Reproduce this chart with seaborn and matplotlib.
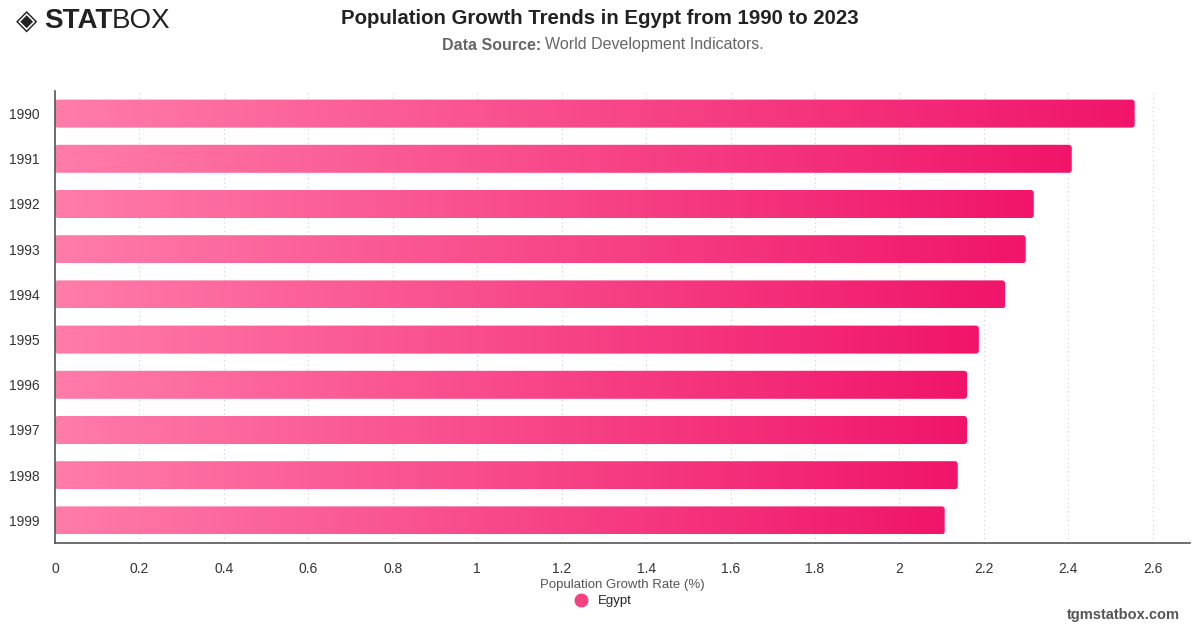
import numpy as np
import pandas as pd
import matplotlib
matplotlib.use("Agg")
import matplotlib.pyplot as plt
import seaborn as sns
from matplotlib.colors import LinearSegmentedColormap
from matplotlib.patches import FancyBboxPatch
from matplotlib.lines import Line2D

# datos
years = ["1990", "1991", "1992", "1993", "1994", "1995", "1996", "1997", "1998", "1999"]
growth = [2.557, 2.408, 2.318, 2.299, 2.250, 2.188, 2.160, 2.160, 2.138, 2.107]
x_ticks = [0, 0.2, 0.4, 0.6, 0.8, 1, 1.2, 1.4, 1.6, 1.8, 2, 2.2, 2.4, 2.6]
x_tick_labels = ["0", "0.2", "0.4", "0.6", "0.8", "1", "1.2", "1.4", "1.6", "1.8", "2", "2.2", "2.4", "2.6"]

df = pd.DataFrame({"year": years, "growth": growth})

sns.set_theme(style="white")
plt.rcParams["font.family"] = ["Liberation Sans", "DejaVu Sans"]

fig = plt.figure(figsize=(12, 6.28), dpi=100)
ax = fig.add_axes([55 / 1200, 1 - 543 / 628, (1190 - 55) / 1200, (543 - 91) / 628])

sns.barplot(data=df, x="growth", y="year", orient="h", width=0.62,
            color="#f7407f", ax=ax)

# degradado rosa en cada barra
cmap = LinearSegmentedColormap.from_list("pinks", ["#ff7ca9", "#f0156a"])
grad = np.linspace(0, 1, 256).reshape(1, -1)
for p in list(ax.patches):
    x0, y0, w, h = p.get_x(), p.get_y(), p.get_width(), p.get_height()
    p.set_visible(False)
    clip = FancyBboxPatch((x0, y0), w, h, boxstyle="round,pad=0,rounding_size=0.007",
                          mutation_aspect=9.3, transform=ax.transData,
                          facecolor="none", edgecolor="none")
    ax.add_patch(clip)
    im = ax.imshow(grad, cmap=cmap, extent=(x0, x0 + w, y0 + h, y0),
                   aspect="auto", zorder=2)
    im.set_clip_path(clip)

ax.set_xlim(0, 2.688)
ax.set_ylim(9.5, -0.5)
ax.set_xticks(x_ticks)
ax.set_xticklabels(x_tick_labels)
ax.tick_params(axis="x", length=0, pad=14, labelsize=10, labelcolor="#333333")
ax.tick_params(axis="y", length=0, pad=11, labelsize=10, labelcolor="#333333")
ax.xaxis.grid(True, linestyle=(0, (1, 3)), color="#cccccc", linewidth=0.8)
ax.set_axisbelow(True)
for s in ["top", "right"]:
    ax.spines[s].set_visible(False)
for s in ["left", "bottom"]:
    ax.spines[s].set_color("#555555")
    ax.spines[s].set_linewidth(1.2)

ax.set_ylabel("")
ax.set_xlabel("Population Growth Rate (%)", fontsize=9.5, color="#555555", labelpad=2)

# leyenda
handle = Line2D([], [], marker="o", linestyle="", markersize=9,
                markerfacecolor="#f7407f", markeredgecolor="#f7407f")
fig.legend([handle], ["Egypt"], loc="center", bbox_to_anchor=(0.5, 1 - 601 / 628),
           frameon=False, fontsize=9.5, handletextpad=0.3, borderpad=0)

# titulos
fig.text(0.5, 1 - 18 / 628, "Population Growth Trends in Egypt from 1990 to 2023",
         ha="center", va="center", fontsize=14.7, fontweight="bold", color="#222222")
fig.text(541 / 1200, 1 - 45 / 628, "Data Source:", ha="right", va="center",
         fontsize=11.5, fontweight="bold", color="#666666")
fig.text(545 / 1200, 1 - 45 / 628, "World Development Indicators.", ha="left", va="center",
         fontsize=11.5, color="#666666")

# logo
fig.text(16 / 1200, 1 - 21 / 628, "\u25c8", ha="left", va="center", fontsize=20,
         color="#222222", family=["DejaVu Sans"])
fig.text(44 / 1200, 1 - 21 / 628, "STAT", ha="left", va="center", fontsize=20,
         fontweight="heavy", color="#222222")
fig.text(112 / 1200, 1 - 21 / 628, "BOX", ha="left", va="center", fontsize=20,
         fontweight="light", color="#222222")

fig.text(1180 / 1200, 1 - 615 / 628, "tgmstatbox.com", ha="right", va="center",
         fontsize=10.5, fontweight="bold", color="#555555")

fig.savefig("out.png", dpi=100)
